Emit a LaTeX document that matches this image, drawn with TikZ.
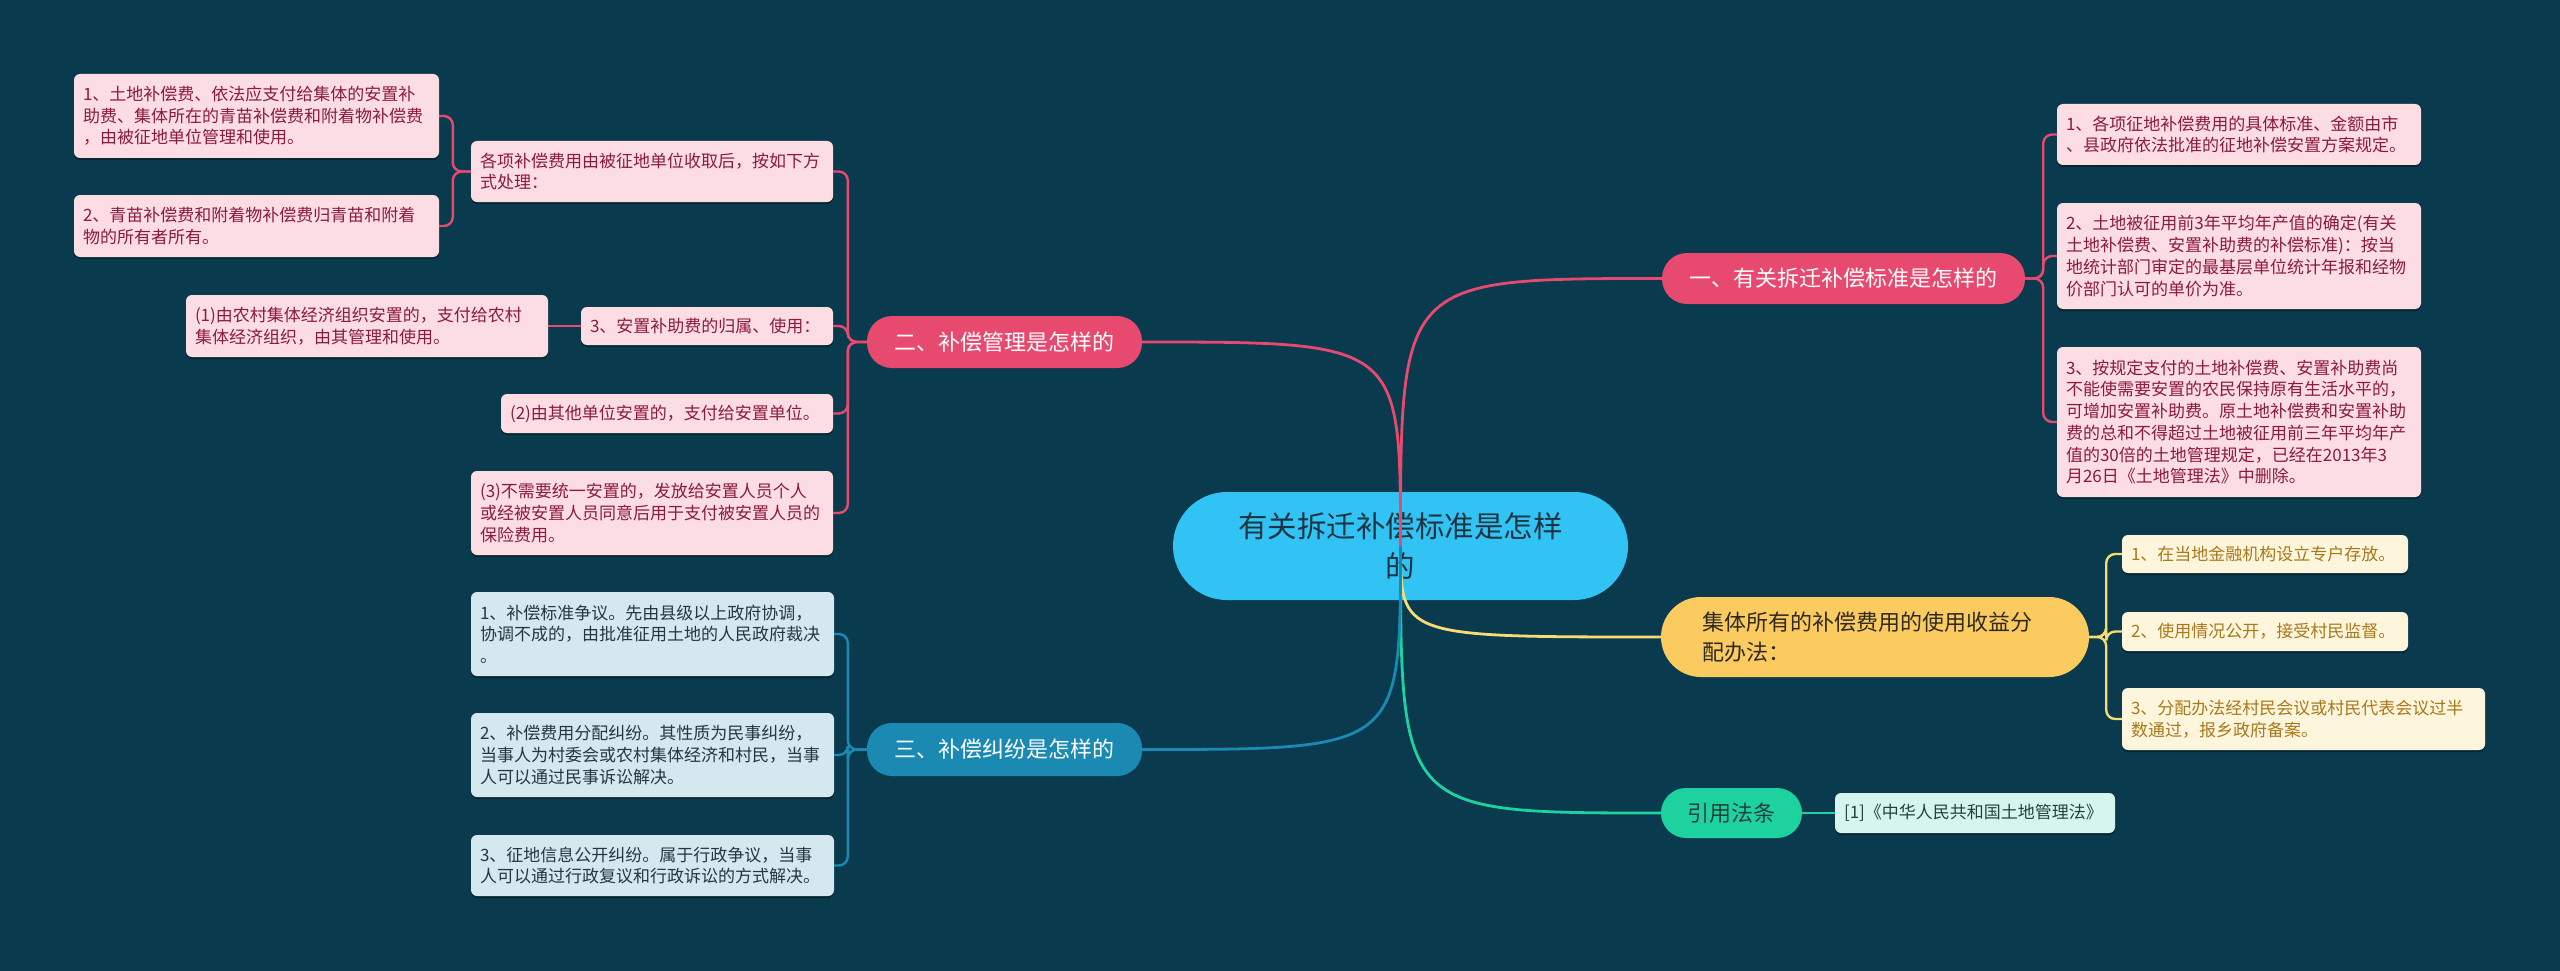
\documentclass[tikz,border=0pt]{standalone}
\usepackage{fontspec}
\setmainfont{Noto Sans CJK SC}
\usetikzlibrary{shadows}

\definecolor{bgcol}{HTML}{0A3A4D}
\definecolor{rootcol}{HTML}{30C3F3}
\definecolor{rootink}{HTML}{1F3443}
\definecolor{pinkmain}{HTML}{E8496F}
\definecolor{yellowmain}{HTML}{FCCB60}
\definecolor{yellowline}{HTML}{F7DC72}
\definecolor{greenmain}{HTML}{1ED2A0}
\definecolor{bluemain}{HTML}{1A8AB3}
\definecolor{leafpink}{HTML}{FDDDE4}
\definecolor{inkpink}{HTML}{8C1A3C}
\definecolor{leafcream}{HTML}{FEF6DC}
\definecolor{inkcream}{HTML}{A9781B}
\definecolor{leafblue}{HTML}{D3E8EF}
\definecolor{inkblue}{HTML}{243743}
\definecolor{leafmint}{HTML}{D5F5EE}
\definecolor{inkmint}{HTML}{23433A}
\definecolor{darkink}{HTML}{2E2A22}

\begin{document}
\begin{tikzpicture}[
  x=1pt, y=-1pt,
  rootbox/.style={rounded corners=54pt, fill=rootcol, text=rootink, minimum width=455pt,
    minimum height=108pt, align=center, inner sep=0pt, font=\fontsize{29.5}{40}\selectfont},
  branchpill/.style={rounded corners=25pt, minimum height=51pt, inner sep=0pt,
    font=\fontsize{22}{30}\selectfont},
  leafbox/.style={rounded corners=6pt, align=left, inner xsep=9pt, inner ysep=0pt,
    font=\fontsize{17}{21.7}\selectfont,
    drop shadow={shadow xshift=0pt, shadow yshift=-2pt, opacity=0.35, fill=black}},
  pinkleaf/.style={leafbox, fill=leafpink, text=inkpink},
  creamleaf/.style={leafbox, fill=leafcream, text=inkcream},
  blueleaf/.style={leafbox, fill=leafblue, text=inkblue},
  mintleaf/.style={leafbox, fill=leafmint, text=inkmint},
  limb/.style={line width=2.8pt},
  twig/.style={line width=2.4pt, rounded corners=9pt}
]

% Background and canvas size.
\fill[bgcol] (0,0) rectangle (2560,971);

% Central topic.
\node[rootbox] (root) at (1400.5,546) {有关拆迁补偿标准是怎样\\的};

% Right branch: standards.
\node[branchpill, fill=pinkmain, text=white, minimum width=363pt] (std) at (1843.5,278.5)
  {一、有关拆迁补偿标准是怎样的};
\node[pinkleaf, text width=346pt, minimum height=61pt] (std1) at (2239,134.5)
  {1、各项征地补偿费用的具体标准、金额由市\\、县政府依法批准的征地补偿安置方案规定。};
\node[pinkleaf, text width=346pt, minimum height=106pt] (std2) at (2239,256)
  {2、土地被征用前3年平均年产值的确定(有关\\土地补偿费、安置补助费的补偿标准)：按当\\地统计部门审定的最基层单位统计年报和经物\\价部门认可的单价为准。};
\node[pinkleaf, text width=346pt, minimum height=150pt] (std3) at (2239,422)
  {3、按规定支付的土地补偿费、安置补助费尚\\不能使需要安置的农民保持原有生活水平的，\\可增加安置补助费。原土地补偿费和安置补助\\费的总和不得超过土地被征用前三年平均年产\\值的30倍的土地管理规定，已经在2013年3\\月26日《土地管理法》中删除。};

% Right branch: collective use.
\node[branchpill, fill=yellowmain, text=darkink, minimum width=428pt, minimum height=80pt,
  rounded corners=40pt, text width=345pt, align=left] (use) at (1875,637)
  {集体所有的补偿费用的使用收益分\\配办法：};
\node[creamleaf, text width=268pt, minimum height=38pt] (use1) at (2265,554)
  {1、在当地金融机构设立专户存放。};
\node[creamleaf, text width=268pt, minimum height=39pt] (use2) at (2265,631.5)
  {2、使用情况公开，接受村民监督。};
\node[creamleaf, text width=345pt, minimum height=62pt] (use3) at (2303.5,719)
  {3、分配办法经村民会议或村民代表会议过半\\数通过，报乡政府备案。};

% Right branch: law reference.
\node[branchpill, fill=greenmain, text=inkmint, minimum width=141pt, minimum height=50pt] (law) at (1731.5,813)
  {引用法条};
\node[mintleaf, text width=262pt, minimum height=40pt] (law1) at (1975,813)
  {[1]《中华人民共和国土地管理法》};

% Left branch: management.
\node[branchpill, fill=pinkmain, text=white, minimum width=275pt, minimum height=52pt] (mgmt) at (1004.5,342)
  {二、补偿管理是怎样的};
\node[pinkleaf, text width=344pt, minimum height=61pt] (mgmt1) at (652,171.5)
  {各项补偿费用由被征地单位收取后，按如下方\\式处理：};
\node[pinkleaf, text width=347pt, minimum height=84pt] (way1) at (256.5,116)
  {1、土地补偿费、依法应支付给集体的安置补\\助费、集体所在的青苗补偿费和附着物补偿费\\，由被征地单位管理和使用。};
\node[pinkleaf, text width=347pt, minimum height=62pt] (way2) at (256.5,226)
  {2、青苗补偿费和附着物补偿费归青苗和附着\\物的所有者所有。};
\node[pinkleaf, text width=234pt, minimum height=38pt] (mgmt2) at (707,326)
  {3、安置补助费的归属、使用：};
\node[pinkleaf, text width=344pt, minimum height=62pt] (place1) at (367,326)
  {(1)由农村集体经济组织安置的，支付给农村\\集体经济组织，由其管理和使用。};
\node[pinkleaf, text width=314pt, minimum height=39pt] (mgmt3) at (667,413.5)
  {(2)由其他单位安置的，支付给安置单位。};
\node[pinkleaf, text width=344pt, minimum height=84pt] (mgmt4) at (652,513)
  {(3)不需要统一安置的，发放给安置人员个人\\或经被安置人员同意后用于支付被安置人员的\\保险费用。};

% Left branch: disputes.
\node[branchpill, fill=bluemain, text=white, minimum width=275pt, minimum height=53pt] (fight) at (1004.5,749.5)
  {三、补偿纠纷是怎样的};
\node[blueleaf, text width=345pt, minimum height=84pt] (fight1) at (652.5,634)
  {1、补偿标准争议。先由县级以上政府协调，\\协调不成的，由批准征用土地的人民政府裁决\\。};
\node[blueleaf, text width=345pt, minimum height=84pt] (fight2) at (652.5,755)
  {2、补偿费用分配纠纷。其性质为民事纠纷，\\当事人为村委会或农村集体经济和村民，当事\\人可以通过民事诉讼解决。};
\node[blueleaf, text width=345pt, minimum height=61pt] (fight3) at (652.5,865.5)
  {3、征地信息公开纠纷。属于行政争议，当事\\人可以通过行政复议和行政诉讼的方式解决。};

% Main curves out of the central topic.
\draw[limb, pinkmain] (root.center) .. controls (root.center |- std.west) .. (std.west);
\draw[limb, yellowline] (root.center) .. controls (root.center |- use.west) .. (use.west);
\draw[limb, greenmain] (root.center) .. controls (root.center |- law.west) .. (law.west);
\draw[limb, pinkmain] (root.center) .. controls (root.center |- mgmt.east) .. (mgmt.east);
\draw[limb, bluemain] (root.center) .. controls (root.center |- fight.east) .. (fight.east);

% Brackets to the leaves.
\foreach \kid in {std1,std2,std3}
  \draw[twig, pinkmain] (std.east) -- ++(18,0) |- (\kid.west);
\foreach \kid in {use1,use2,use3}
  \draw[twig, yellowline] (use.east) -- ++(17,0) |- (\kid.west);
\draw[twig, greenmain] (law.east) -- (law1.west);
\foreach \kid in {mgmt1,mgmt2,mgmt3,mgmt4}
  \draw[twig, pinkmain] (mgmt.west) -- ++(-19,0) |- (\kid.east);
\foreach \kid in {way1,way2}
  \draw[twig, pinkmain] (mgmt1.west) -- ++(-18,0) |- (\kid.east);
\draw[twig, pinkmain] (mgmt2.west) -- (place1.east);
\foreach \kid in {fight1,fight2,fight3}
  \draw[twig, bluemain] (fight.west) -- ++(-19,0) |- (\kid.east);

\end{tikzpicture}
\end{document}
